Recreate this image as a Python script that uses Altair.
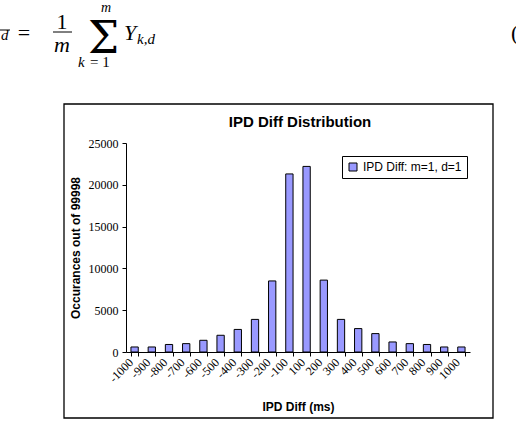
import altair as alt
import pandas as pd

# IPD difference buckets (ms) and how often each occurred
diff_ms = ["-1000", "-900", "-800", "-700", "-600", "-500", "-400", "-300", "-200", "-100",
           "100", "200", "300", "400", "500", "600", "700", "800", "900", "1000"]
occurrences = [600, 600, 900, 1000, 1400, 2000, 2700, 3900, 8500, 21300,
               22200, 8600, 3900, 2800, 2200, 1200, 1000, 900, 600, 600]
series_name = "IPD Diff: m=1, d=1"
y_ticks = [0, 5000, 10000, 15000, 20000, 25000]

df = pd.DataFrame({"diff": diff_ms, "count": occurrences, "series": series_name})

# plot-area placement on the page
LEFT, TOP = 126, 143
W, H = 344, 209
PAGE_W, PAGE_H = 516, 422


def px(x):
    return x - LEFT


def py(y):
    return y - TOP


one_row = alt.Data(values=[{}])


def label(text, x, y, size, italic=False, bold=False, font="Liberation Serif",
          align="left", baseline="alphabetic"):
    return alt.Chart(one_row).mark_text(
        text=text, font=font, fontSize=size,
        fontStyle="italic" if italic else "normal",
        fontWeight="bold" if bold else "normal",
        align=align, baseline=baseline, color="black",
    ).encode(x=alt.value(px(x)), y=alt.value(py(y)))


def hline(x1, x2, y, width=1.0):
    return alt.Chart(one_row).mark_rule(color="black", strokeWidth=width).encode(
        x=alt.value(px(x1)), x2=alt.value(px(x2)), y=alt.value(py(y))
    )


# frame around the chart
frame = alt.Chart(one_row).mark_rect(
    fillOpacity=0, stroke="black", strokeWidth=1.3
).encode(
    x=alt.value(px(64)), x2=alt.value(px(493)),
    y=alt.value(py(104)), y2=alt.value(py(418)),
)

bars = alt.Chart(df).mark_bar(stroke="black", strokeWidth=1).encode(
    x=alt.X(
        "diff:N", sort=diff_ms,
        scale=alt.Scale(paddingInner=0.575, paddingOuter=0.2875),
        axis=alt.Axis(
            title="IPD Diff (ms)", titleFont="Liberation Sans", titleFontWeight="bold",
            titleFontSize=12, titleColor="black", titleX=W / 2, titleY=54,
            titleBaseline="middle", titleAlign="center",
            labelAngle=-45, labelAlign="right", labelBaseline="middle",
            labelFont="Liberation Serif", labelFontSize=12, labelColor="black",
            labelPadding=4, labelOffset=-4,
            tickBand="extent", tickSize=4, tickColor="black", domainColor="black",
            labelOverlap=False,
        ),
    ),
    y=alt.Y(
        "count:Q",
        scale=alt.Scale(domain=[0, 25000], nice=False),
        axis=alt.Axis(
            values=y_ticks, format="d", grid=False,
            title="Occurances out of 99998", titleFont="Liberation Sans",
            titleFontWeight="bold", titleFontSize=12, titleColor="black",
            titleX=-51, titleY=H / 2, titleAngle=-90, titleAlign="center",
            titleBaseline="middle",
            labelFont="Liberation Serif", labelFontSize=12, labelColor="black",
            labelPadding=4, tickSize=4, tickColor="black", domainColor="black",
        ),
    ),
    color=alt.Color(
        "series:N",
        scale=alt.Scale(range=["#9999FF"]),
        legend=alt.Legend(
            title=None, orient="none", legendX=px(342), legendY=py(156),
            padding=5, strokeColor="black", fillColor="white",
            symbolType="square", symbolSize=64, symbolStrokeColor="black",
            symbolStrokeWidth=1, labelFont="Liberation Sans", labelFontSize=12,
            labelColor="black", labelOffset=4,
        ),
    ),
)

title = label("IPD Diff Distribution", 300, 122, 15, bold=True,
              font="Liberation Sans", align="center", baseline="middle")

# averaging formula above the chart
formula = [
    hline(0, 10, 30),
    label("d", 1, 40, 15, italic=True),
    label("=", 24, 40, 22, align="center"),
    label("1", 62, 29, 22, align="center"),
    hline(53, 72, 32),
    label("m", 62, 52, 22, italic=True, align="center"),
    label("\u03a3", 103.5, 53, 44, font="DejaVu Serif", align="center"),
    label("m", 106, 12, 14, italic=True, align="center"),
    label("k", 78, 67, 15, italic=True),
    label("= 1", 90, 67, 15),
    label("Y", 124, 40, 22, italic=True),
    label("k,d", 137, 44, 15, italic=True),
    label("(", 511, 40, 22),
]

chart = alt.layer(frame, bars, title, *formula).properties(
    width=W, height=H,
    autosize=alt.AutoSizeParams(type="none"),
    padding={"left": LEFT, "top": TOP, "right": PAGE_W - LEFT - W, "bottom": PAGE_H - TOP - H},
    background="white",
).configure_view(stroke=None)

chart.save("out.html", embed_options={"renderer": "svg", "actions": False})
